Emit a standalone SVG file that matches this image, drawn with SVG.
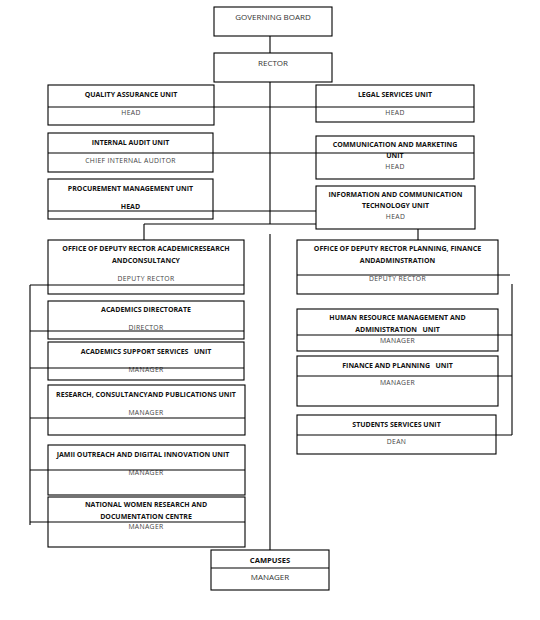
<svg xmlns="http://www.w3.org/2000/svg" width="540" height="620" viewBox="0 0 540 620">
<style>
.b{fill:#fff;stroke:#000;stroke-width:1.1}
.l{fill:none;stroke:#000;stroke-width:1.1}
text{white-space:pre}
.t{font-family:"Open Sans","Liberation Sans",sans-serif;font-size:7px;font-weight:bold;fill:#111;text-anchor:middle}
.s{font-family:"Open Sans","Liberation Sans",sans-serif;font-size:6.8px;letter-spacing:0.35px;fill:#444;text-anchor:middle}
.m{font-family:"Open Sans","Liberation Sans",sans-serif;font-size:8px;fill:#333;text-anchor:middle}
</style>
<rect width="540" height="620" fill="#fff"/>
<g id="connectors-back">
<path class="l" d="M270,36V53 M270,82V224 M144,224H418 M144,224V240 M418,229V240 M270,234V550 M214,107H316 M213,153H316 M213,211H316"/>
</g>
<g id="governing-board"><rect class="b" x="214" y="7" width="118" height="29"/><text class="m" x="273" y="20">GOVERNING BOARD</text></g>
<g id="rector"><rect class="b" x="214" y="53" width="118" height="29"/><text class="m" x="273" y="66">RECTOR</text></g>
<g id="qa"><rect class="b" x="48" y="85" width="166" height="40"/><line class="l" x1="48" y1="107" x2="214" y2="107"/><text class="t" x="131" y="97">QUALITY ASSURANCE UNIT</text><text class="s" x="131" y="115">HEAD</text></g>
<g id="legal"><rect class="b" x="316" y="85" width="158" height="37"/><line class="l" x1="316" y1="107" x2="474" y2="107"/><text class="t" x="395" y="97">LEGAL SERVICES UNIT</text><text class="s" x="395" y="115">HEAD</text></g>
<g id="internal-audit"><rect class="b" x="48" y="133" width="165" height="39"/><line class="l" x1="48" y1="153" x2="213" y2="153"/><text class="t" x="130.5" y="145">INTERNAL AUDIT UNIT</text><text class="s" x="130.5" y="163">CHIEF INTERNAL AUDITOR</text></g>
<g id="communication"><rect class="b" x="316" y="136" width="158" height="43"/><text class="t" x="395" y="147">COMMUNICATION AND MARKETING</text><text class="t" x="395" y="158">UNIT</text><line class="l" x1="316" y1="153" x2="474" y2="153"/><text class="s" x="395" y="169">HEAD</text></g>
<g id="procurement"><rect class="b" x="48" y="179" width="165" height="40"/><line class="l" x1="48" y1="211" x2="213" y2="211"/><text class="t" x="130.5" y="191">PROCUREMENT MANAGEMENT UNIT</text><text class="t" x="130.5" y="209">HEAD</text></g>
<g id="ict"><rect class="b" x="316" y="186" width="159" height="43"/><text class="t" x="395.5" y="197">INFORMATION AND COMMUNICATION</text><text class="t" x="395.5" y="208">TECHNOLOGY UNIT</text><text class="s" x="395.5" y="219">HEAD</text></g>
<g id="dr-arc"><rect class="b" x="48" y="240" width="196" height="54"/><text class="t" x="146" y="251">OFFICE OF DEPUTY RECTOR ACADEMICRESEARCH</text><text class="t" x="146" y="263">ANDCONSULTANCY</text><text class="s" x="146" y="281">DEPUTY RECTOR</text></g>
<g id="academics-directorate"><rect class="b" x="48" y="301" width="196" height="38"/><text class="t" x="146" y="312">ACADEMICS DIRECTORATE</text><text class="s" x="146" y="330">DIRECTOR</text></g>
<g id="academics-support"><rect class="b" x="48" y="342" width="196" height="38"/><text class="t" x="146" y="354">ACADEMICS SUPPORT SERVICES   UNIT</text><text class="s" x="146" y="372">MANAGER</text></g>
<g id="research"><rect class="b" x="48" y="385" width="197" height="50"/><text class="t" x="146" y="397">RESEARCH, CONSULTANCYAND PUBLICATIONS UNIT</text><text class="s" x="146" y="415">MANAGER</text></g>
<g id="jamii"><rect class="b" x="48" y="445" width="197" height="50"/><text class="t" x="143" y="457">JAMII OUTREACH AND DIGITAL INNOVATION UNIT</text><text class="s" x="146" y="475">MANAGER</text></g>
<g id="national-women"><rect class="b" x="48" y="497" width="197" height="50"/><text class="t" x="146" y="507">NATIONAL WOMEN RESEARCH AND</text><text class="t" x="146" y="519">DOCUMENTATION CENTRE</text><text class="s" x="146" y="529">MANAGER</text></g>
<g id="dr-pfa"><rect class="b" x="297" y="240" width="201" height="54"/><text class="t" x="397.5" y="251">OFFICE OF DEPUTY RECTOR PLANNING, FINANCE</text><text class="t" x="397.5" y="263">ANDADMINSTRATION</text><text class="s" x="397.5" y="281">DEPUTY RECTOR</text></g>
<g id="hrm"><rect class="b" x="297" y="309" width="201" height="42"/><text class="t" x="397.5" y="320">HUMAN RESOURCE MANAGEMENT AND</text><text class="t" x="397.5" y="332">ADMINISTRATION   UNIT</text><text class="s" x="397.5" y="343">MANAGER</text></g>
<g id="finance"><rect class="b" x="297" y="356" width="201" height="50"/><text class="t" x="397.5" y="368">FINANCE AND PLANNING   UNIT</text><text class="s" x="397.5" y="385">MANAGER</text></g>
<g id="students"><rect class="b" x="297" y="415" width="199" height="39"/><text class="t" x="396.5" y="427">STUDENTS SERVICES UNIT</text><text class="s" x="396.5" y="444">DEAN</text></g>
<g id="campuses"><rect class="b" x="211" y="550" width="118" height="40"/><line class="l" x1="211" y1="568" x2="329" y2="568"/><text class="t" x="270" y="563" style="font-size:7.6px">CAMPUSES</text><text class="m" x="270" y="580">MANAGER</text></g>
<g id="connectors">
<path class="l" d="M30,285V525 M30,285H244 M30,331H244 M30,368H244 M30,418H245 M30,470H245 M30,522H245 M512,284V435 M297,275H510 M297,335H512 M297,376H512 M297,435H512"/>
</g>
</svg>
